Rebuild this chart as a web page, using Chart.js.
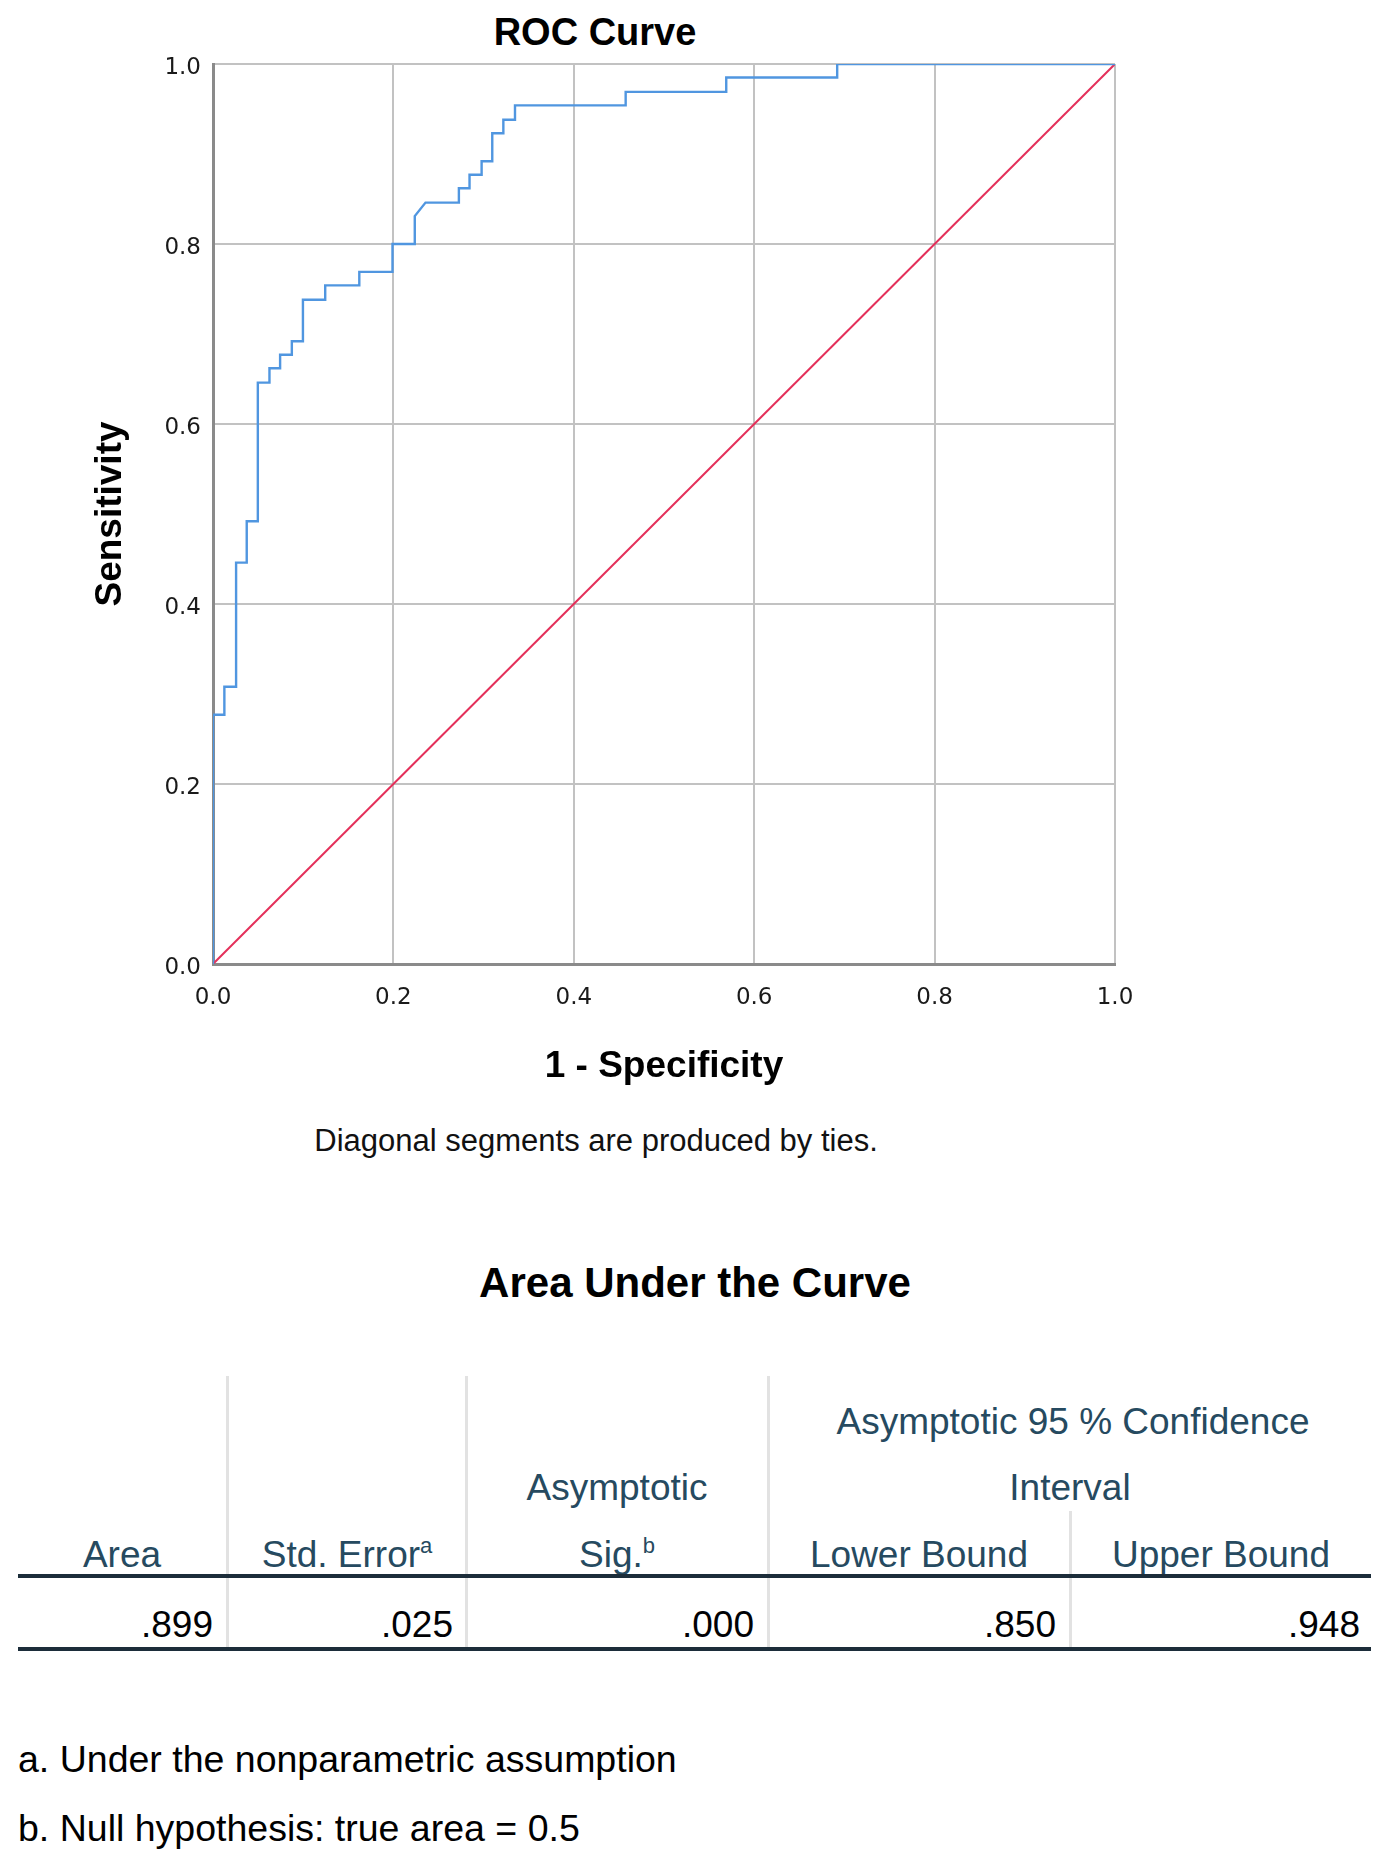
<!DOCTYPE html>
<html>
<head>
<meta charset="utf-8">
<script src="https://cdn.jsdelivr.net/npm/chart.js@4.4.1/dist/chart.umd.min.js"></script>
<style>
  html, body { margin: 0; padding: 0; background: #fff; }
  body { width: 1389px; height: 1867px; position: relative; overflow: hidden;
         font-family: "Liberation Sans", Arial, sans-serif; }
  #chart-box { position: absolute; left: 0; top: 0; width: 1389px; height: 1108px; }
  .t { position: absolute; white-space: nowrap; line-height: 1; }
  .c { transform: translate(-50%, -50%); }
  .r { transform: translate(-100%, -50%); }
  .l { transform: translate(0, -50%); }
  .hd { color: #264a60; font-size: 37px; }
  .val { color: #010205; font-size: 37px; }
  .vsep { position: absolute; width: 3px; background: #e2e2e2; }
  .hline { position: absolute; left: 18px; width: 1353px; height: 4px; background: #1c2d3a; }
  sup { font-size: 22px; vertical-align: 0; position: relative; top: -14px; }
</style>
</head>
<body>
<div class="t c" style="left:595px; top:32px; font-size:38px; font-weight:bold;">ROC Curve</div>
<div id="chart-box"><canvas id="roc-chart"></canvas></div>
<div class="t c" style="left:596px; top:1140px; font-size:31px; color:#111;">Diagonal segments are produced by ties.</div>

<div class="t c" style="left:695px; top:1283px; font-size:42px; font-weight:bold;">Area Under the Curve</div>

<div class="vsep" style="left:226px; top:1376px; height:271px;"></div>
<div class="vsep" style="left:465px; top:1376px; height:271px;"></div>
<div class="vsep" style="left:767px; top:1376px; height:271px;"></div>
<div class="vsep" style="left:1069px; top:1511px; height:136px;"></div>

<div class="t c hd" style="left:1073px; top:1421px;">Asymptotic 95 % Confidence</div>
<div class="t c hd" style="left:617px; top:1487px;">Asymptotic</div>
<div class="t c hd" style="left:1070px; top:1487px;">Interval</div>
<div class="t c hd" style="left:122px; top:1554px;">Area</div>
<div class="t c hd" style="left:347px; top:1554px;">Std. Error<sup>a</sup></div>
<div class="t c hd" style="left:617px; top:1554px;">Sig.<sup>b</sup></div>
<div class="t c hd" style="left:919px; top:1554px;">Lower Bound</div>
<div class="t c hd" style="left:1221px; top:1554px;">Upper Bound</div>
<div class="hline" style="top:1574px;"></div>
<div id="auc-row"></div>
<div class="hline" style="top:1647px;"></div>

<div class="t l" style="left:18px; top:1760px; font-size:37.5px;">a. Under the nonparametric assumption</div>
<div class="t l" style="left:18px; top:1829px; font-size:37.5px;">b. Null hypothesis: true area = 0.5</div>

<script>
// ROC 曲线顶点 (1 - 特异度, 灵敏度)
var rocFpr = [0, 0, 0.0126, 0.0126, 0.0256, 0.0256, 0.0374, 0.0374, 0.0497, 0.0497,
  0.0626, 0.0626, 0.0744, 0.0744, 0.0874, 0.0874, 0.0997, 0.0997, 0.1244, 0.1244,
  0.1622, 0.1622, 0.199, 0.199, 0.2237, 0.2237, 0.2356, 0.2726, 0.2726, 0.2844,
  0.2844, 0.2978, 0.2978, 0.3096, 0.3096, 0.3219, 0.3219, 0.3348, 0.3348, 0.4575,
  0.4575, 0.569, 0.569, 0.692, 0.692, 1];
var rocTpr = [0, 0.277, 0.277, 0.308, 0.308, 0.446, 0.446, 0.492, 0.492, 0.646,
  0.646, 0.662, 0.662, 0.677, 0.677, 0.692, 0.692, 0.738, 0.738, 0.754,
  0.754, 0.769, 0.769, 0.8, 0.8, 0.831, 0.846, 0.846, 0.862, 0.862,
  0.877, 0.877, 0.892, 0.892, 0.923, 0.923, 0.938, 0.938, 0.954, 0.954,
  0.969, 0.969, 0.985, 0.985, 1, 1];
// 参考线
var refX = [0, 1];
var refY = [0, 1];
var tickValues = [0, 0.2, 0.4, 0.6, 0.8, 1.0];

// AUC 表格
var aucValues = [".899", ".025", ".000", ".850", ".948"];
var aucRight = [213, 453, 754, 1056, 1360];

var row = document.getElementById("auc-row");
for (var i = 0; i < aucValues.length; i++) {
  var d = document.createElement("div");
  d.className = "t r val";
  d.style.left = aucRight[i] + "px";
  d.style.top = "1624px";
  d.textContent = aucValues[i];
  row.appendChild(d);
}

function toPoints(xs, ys) {
  var pts = [];
  for (var i = 0; i < xs.length; i++) pts.push({ x: xs[i], y: ys[i] });
  return pts;
}

var ctx = document.getElementById("roc-chart").getContext("2d");
var rocChart = new Chart(ctx, {
  type: "scatter",
  data: {
    datasets: [
      {
        label: "ROC",
        data: toPoints(rocFpr, rocTpr),
        showLine: true,
        borderColor: "#5096e0",
        borderWidth: 2.4,
        pointRadius: 0,
        fill: false,
      },
      {
        label: "Reference",
        data: toPoints(refX, refY),
        showLine: true,
        borderColor: "#e4305a",
        borderWidth: 2,
        pointRadius: 0,
        fill: false,
      },
    ],
  },
  options: {
    responsive: true,
    maintainAspectRatio: false,
    animation: false,
    layout: { padding: { left: 88, top: 64, right: 274, bottom: 0 } },
    plugins: {
      legend: { display: false },
      tooltip: { enabled: false },
    },
    scales: {
      x: {
        type: "linear",
        min: 0,
        max: 1,
        afterBuildTicks: function (s) { s.ticks = tickValues.map(function (v) { return { value: v }; }); },
        afterFit: function (s) { s.height = 144; },
        grid: { color: "#c2c2c2", lineWidth: 2, drawTicks: false },
        border: { color: "#8a8a8a", width: 3 },
        ticks: {
          padding: 20,
          color: "#1a1a1a",
          font: { family: "DejaVu Sans", size: 23 },
          callback: function (v) { return v.toFixed(1); },
        },
        title: {
          display: true,
          text: "1 - Specificity",
          color: "#000",
          font: { family: "Liberation Sans", size: 37, weight: "bold" },
          padding: { top: 0, bottom: 19 },
        },
      },
      y: {
        type: "linear",
        min: 0,
        max: 1,
        afterBuildTicks: function (s) { s.ticks = tickValues.map(function (v) { return { value: v }; }); },
        afterFit: function (s) { s.width = 125; },
        grid: { color: "#c2c2c2", lineWidth: 2, drawTicks: false },
        border: { color: "#8a8a8a", width: 3 },
        ticks: {
          padding: 12,
          labelOffset: 4,
          color: "#1a1a1a",
          font: { family: "DejaVu Sans", size: 23 },
          callback: function (v) { return v.toFixed(1); },
        },
        title: {
          display: true,
          text: "Sensitivity",
          color: "#000",
          font: { family: "Liberation Sans", size: 37, weight: "bold" },
          padding: { top: 1, bottom: 0 },
        },
      },
    },
  },
});
</script>
</body>
</html>
